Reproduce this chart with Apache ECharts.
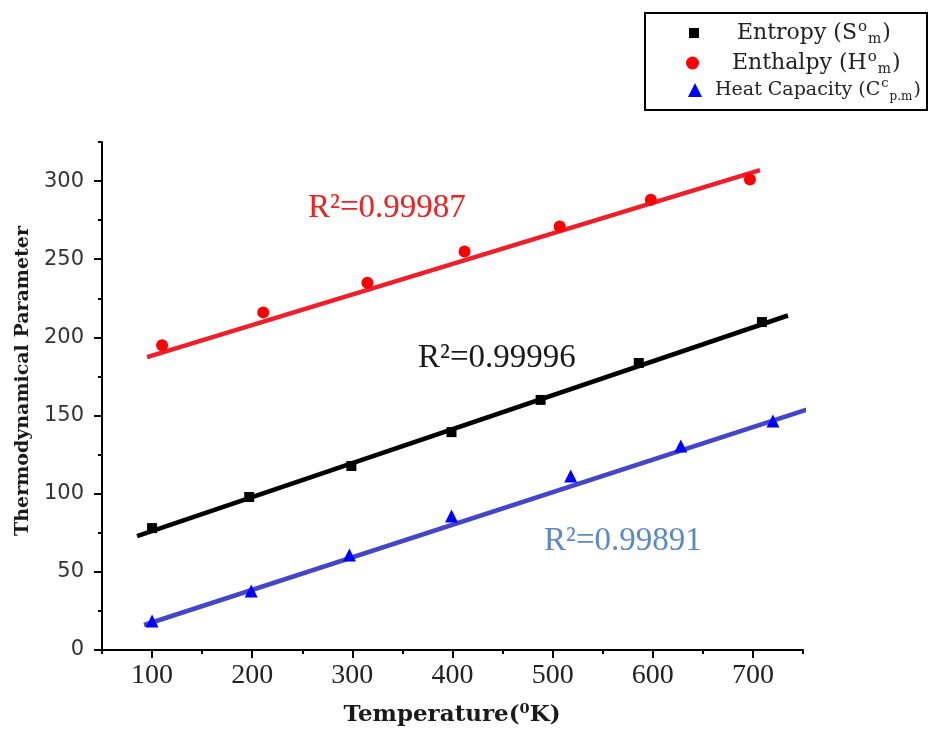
<!DOCTYPE html>
<html><head><meta charset="utf-8">
<script src="https://cdn.jsdelivr.net/npm/echarts@6/dist/echarts.min.js"></script>
<style>html,body{margin:0;padding:0;background:#fff}#c{width:931px;height:732px}</style>
</head><body><div id="c"></div>
<script>
// ---- data ----
const entropyT = [100, 197, 299, 399, 488, 586, 709];
const entropyV = [78, 97.9, 117.7, 139.4, 160, 183.6, 209.8];
const enthalpyT = [110, 211, 315, 412, 507, 598, 697];
const enthalpyV = [195, 216, 235, 255, 271, 288, 301];
const heatT = [100, 199, 297, 399, 518, 628, 720];
const heatV = [18.5, 37.7, 60.8, 85.7, 111.3, 130.5, 146.5];
// fitted lines (end points)
const entropyFitT = [85, 735];
const entropyFitV = [72.9, 214];
const enthalpyFitT = [95, 707];
const enthalpyFitV = [187.4, 307];
const heatFitT = [92, 759];
const heatFitV = [16, 154.8];
// axes
const xMajorTicks = [100, 200, 300, 400, 500, 600, 700];
const xMinorTicks = [50, 150, 250, 350, 450, 550, 650, 750];
const yMajorTicks = [0, 50, 100, 150, 200, 250, 300];
const yMinorTicks = [25, 75, 125, 175, 225, 275, 325];
const r2Labels = ['R²=0.99987', 'R²=0.99996', 'R²=0.99891'];
const seriesNames = ['Entropy', 'Enthalpy', 'Heat Capacity'];
const legendTexts = {
  'Entropy': '{t|Entropy (S}{sup|o}{sub|m}{t|)}',
  'Enthalpy': '{t|Enthalpy (H}{sup|o}{sub|m}{t|)}',
  'Heat Capacity': '{t|Heat Capacity (C}{sup|c}{sub|p.m}{t|)}'
};

const zip = (a, b) => a.map((v, i) => [v, b[i]]);
const axisCol = '#000';
function richLegend(fs) {
  return {
    t: {fontFamily: 'DejaVu Serif', fontSize: fs, color: '#222', lineHeight: 26},
    sup: {fontFamily: 'DejaVu Serif', fontSize: Math.round(fs * 0.7), color: '#222', verticalAlign: 'top', lineHeight: 26, padding: [0, 1, 10, 1]},
    sub: {fontFamily: 'DejaVu Serif', fontSize: Math.round(fs * 0.65), color: '#222', verticalAlign: 'bottom', lineHeight: 26, padding: [8, 1, 0, 0]}
  };
}
function mkLegend(name, icon, size, left, top, padLeft, fs) {
  return {
    data: [{name: name, icon: icon}], left: left, top: top, padding: 0,
    itemWidth: size, itemHeight: size, selectedMode: false,
    formatter: n => legendTexts[n],
    textStyle: {rich: richLegend(fs), padding: [0, 0, 0, padLeft]}
  };
}

const chart = echarts.init(document.getElementById('c'));
chart.setOption({
  animation: false,
  backgroundColor: '#fff',
  grid: {left: 102, right: 128, top: 142, bottom: 82, outerBoundsMode: 'none'},
  xAxis: [{
    type: 'value', min: 50, max: 750, position: 'bottom',
    axisLine: {onZero: false, lineStyle: {color: axisCol, width: 2}},
    axisTick: {customValues: xMajorTicks, length: 8, lineStyle: {color: axisCol, width: 2}},
    axisLabel: {customValues: xMajorTicks, margin: 12, fontFamily: 'Liberation Serif', fontSize: 28, color: '#222'},
    splitLine: {show: false}
  }, {
    type: 'value', min: 50, max: 750, position: 'bottom',
    axisLine: {show: false, onZero: false},
    axisTick: {customValues: xMinorTicks, length: 4, lineStyle: {color: axisCol, width: 2}},
    axisLabel: {show: false}, splitLine: {show: false}
  }],
  yAxis: [{
    type: 'value', min: 0, max: 325, position: 'left',
    axisLine: {show: true, onZero: false, lineStyle: {color: axisCol, width: 2}},
    axisTick: {show: true, customValues: yMajorTicks, length: 8, lineStyle: {color: axisCol, width: 2}},
    axisLabel: {customValues: yMajorTicks, margin: 18, fontFamily: 'DejaVu Sans', fontSize: 21, color: '#333'},
    splitLine: {show: false}
  }, {
    type: 'value', min: 0, max: 325, position: 'left',
    axisLine: {show: false, onZero: false},
    axisTick: {show: true, customValues: yMinorTicks, length: 4, lineStyle: {color: axisCol, width: 2}},
    axisLabel: {show: false}, splitLine: {show: false}
  }],
  legend: [
    mkLegend('Entropy', 'rect', 10, 689, 20, 33, 22),
    mkLegend('Enthalpy', 'circle', 13, 686, 50, 28, 22),
    mkLegend('Heat Capacity', 'triangle', 14, 688, 77, 8, 19)
  ],
  graphic: [
    {type: 'rect', shape: {x: 645, y: 13, width: 282, height: 97}, style: {fill: 'none', stroke: '#000', lineWidth: 2}},
    {type: 'text', x: 23, y: 381, rotation: Math.PI / 2,
     style: {text: 'Thermodynamical Parameter', fontFamily: 'DejaVu Serif', fontWeight: 'bold', fontSize: 19, fill: '#1a1a1a', align: 'center', verticalAlign: 'middle'}},
    {type: 'text', x: 452, y: 715,
     style: {text: 'Temperature(⁰K)', fontFamily: 'DejaVu Serif', fontWeight: 'bold', fontSize: 23, fill: '#1a1a1a', align: 'center', verticalAlign: 'middle'}},
    {type: 'text', x: 308, y: 208, style: {text: r2Labels[0], fontFamily: 'Liberation Serif', fontSize: 33, fill: '#ee2020', align: 'left', verticalAlign: 'middle'}},
    {type: 'text', x: 418, y: 358, style: {text: r2Labels[1], fontFamily: 'Liberation Serif', fontSize: 33, fill: '#1a1a1a', align: 'left', verticalAlign: 'middle'}},
    {type: 'text', x: 544, y: 541, style: {text: r2Labels[2], fontFamily: 'Liberation Serif', fontSize: 33, fill: '#5b88c6', align: 'left', verticalAlign: 'middle'}}
  ],
  series: [
    {type: 'line', name: 'Entropy fit', data: zip(entropyFitT, entropyFitV), symbol: 'none', clip: false, silent: true,
     lineStyle: {color: '#000', width: 4.5}, z: 2},
    {type: 'line', name: 'Enthalpy fit', data: zip(enthalpyFitT, enthalpyFitV), symbol: 'none', clip: false, silent: true,
     lineStyle: {color: '#ee1f2a', width: 4.5}, z: 2},
    {type: 'line', name: 'Heat Capacity fit', data: zip(heatFitT, heatFitV), symbol: 'none', clip: false, silent: true,
     lineStyle: {color: '#4545c8', width: 4.5}, z: 2},
    {type: 'scatter', name: seriesNames[0], data: zip(entropyT, entropyV), symbol: 'rect', symbolSize: 10,
     itemStyle: {color: '#000', opacity: 1}, z: 3},
    {type: 'scatter', name: seriesNames[1], data: zip(enthalpyT, enthalpyV), symbol: 'circle', symbolSize: 12,
     itemStyle: {color: '#ff0000', opacity: 1}, z: 3},
    {type: 'scatter', name: seriesNames[2], data: zip(heatT, heatV), symbol: 'triangle', symbolSize: 13,
     itemStyle: {color: '#0000ff', opacity: 1}, z: 3}
  ]
});
</script></body></html>
